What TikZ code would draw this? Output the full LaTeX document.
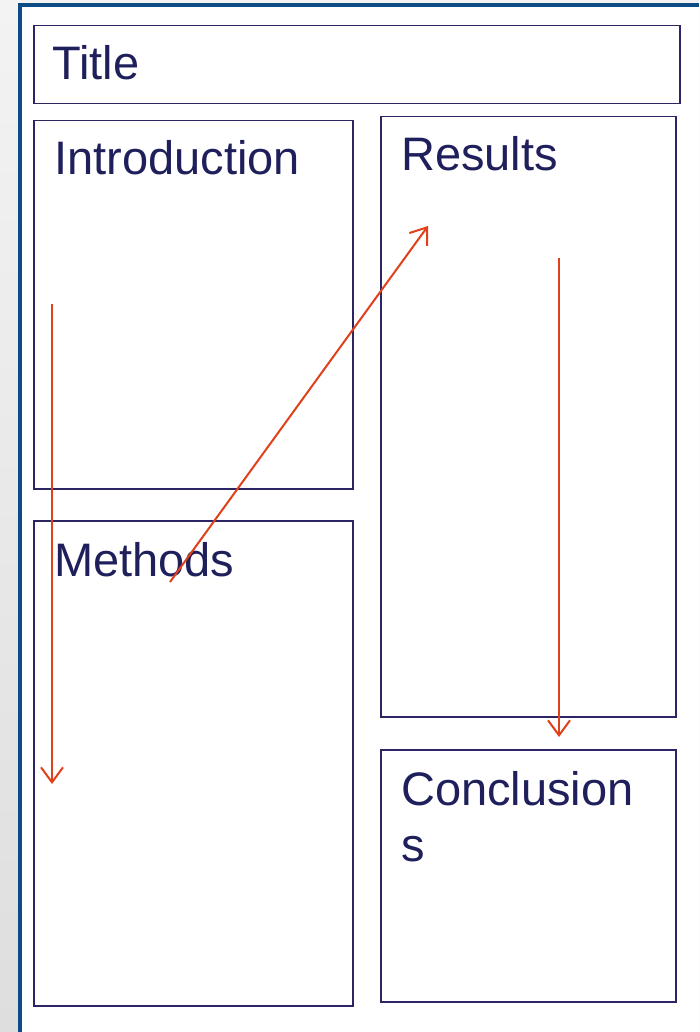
\documentclass[tikz,border=0pt]{standalone}
\usepackage{fontspec}
\setmainfont{Liberation Sans}
\usetikzlibrary{arrows.meta}
\definecolor{pagegrayA}{HTML}{F3F3F3}
\definecolor{pagegrayB}{HTML}{DEDEDE}
\definecolor{frameblue}{HTML}{0E4B85}
\definecolor{boxnavy}{HTML}{2B2563}
\definecolor{textnavy}{HTML}{1F1F5C}
\definecolor{arroworange}{HTML}{E0401A}
\tikzset{
  panel/.style={draw=boxnavy, line width=1.5pt, fill=white, inner sep=0pt, anchor=north west},
  paneltext/.style={text=textnavy, font=\fontsize{47}{56}\selectfont, anchor=base west, inner sep=0pt, align=left},
  flow/.style={draw=arroworange, line width=2pt, -{Straight Barb[length=15pt, width=22pt, line width=2pt]}}
}
\begin{document}
\begin{tikzpicture}[x=1pt, y=-1pt]
\useasboundingbox (0,0) rectangle (699,1032);
% background
\shade[top color=pagegrayA, bottom color=pagegrayB] (0,0) rectangle (699,1032);
\fill[white] (22,7) rectangle (699,1032);
\draw[frameblue, line width=4pt] (20,1032) -- (20,5.5) -- (699,5.5);
% panels
\node[panel, minimum width=646pt, minimum height=78pt] (title) at (33,25) {};
\node[panel, minimum width=319pt, minimum height=368pt] (intro) at (33,120) {};
\node[panel, minimum width=295pt, minimum height=600pt] (results) at (380,116) {};
\node[panel, minimum width=319pt, minimum height=485pt] (methods) at (33,520) {};
\node[panel, minimum width=295pt, minimum height=252pt] (concl) at (380,749) {};
% texts
\node[paneltext] (titletxt) at (52,80) {Title};
\node[paneltext] (introtxt) at (54,175) {Introduction};
\node[paneltext] (resultstxt) at (401,171) {Results};
\node[paneltext] (methodstxt) at (54,576) {Methods};
\node[paneltext] (concltxt) at (401,861) {Conclusion\\s};
% arrows
\coordinate (a1s) at (52,304);
\coordinate (a1e) at (52,784);
\coordinate (a2s) at (170,582);
\coordinate (a2e) at (428,226);
\coordinate (a3s) at (559,258);
\coordinate (a3e) at (559,737);
\draw[flow] (a1s) -- (a1e);
\draw[flow] (a2s) -- (a2e);
\draw[flow] (a3s) -- (a3e);
\end{tikzpicture}
\end{document}
